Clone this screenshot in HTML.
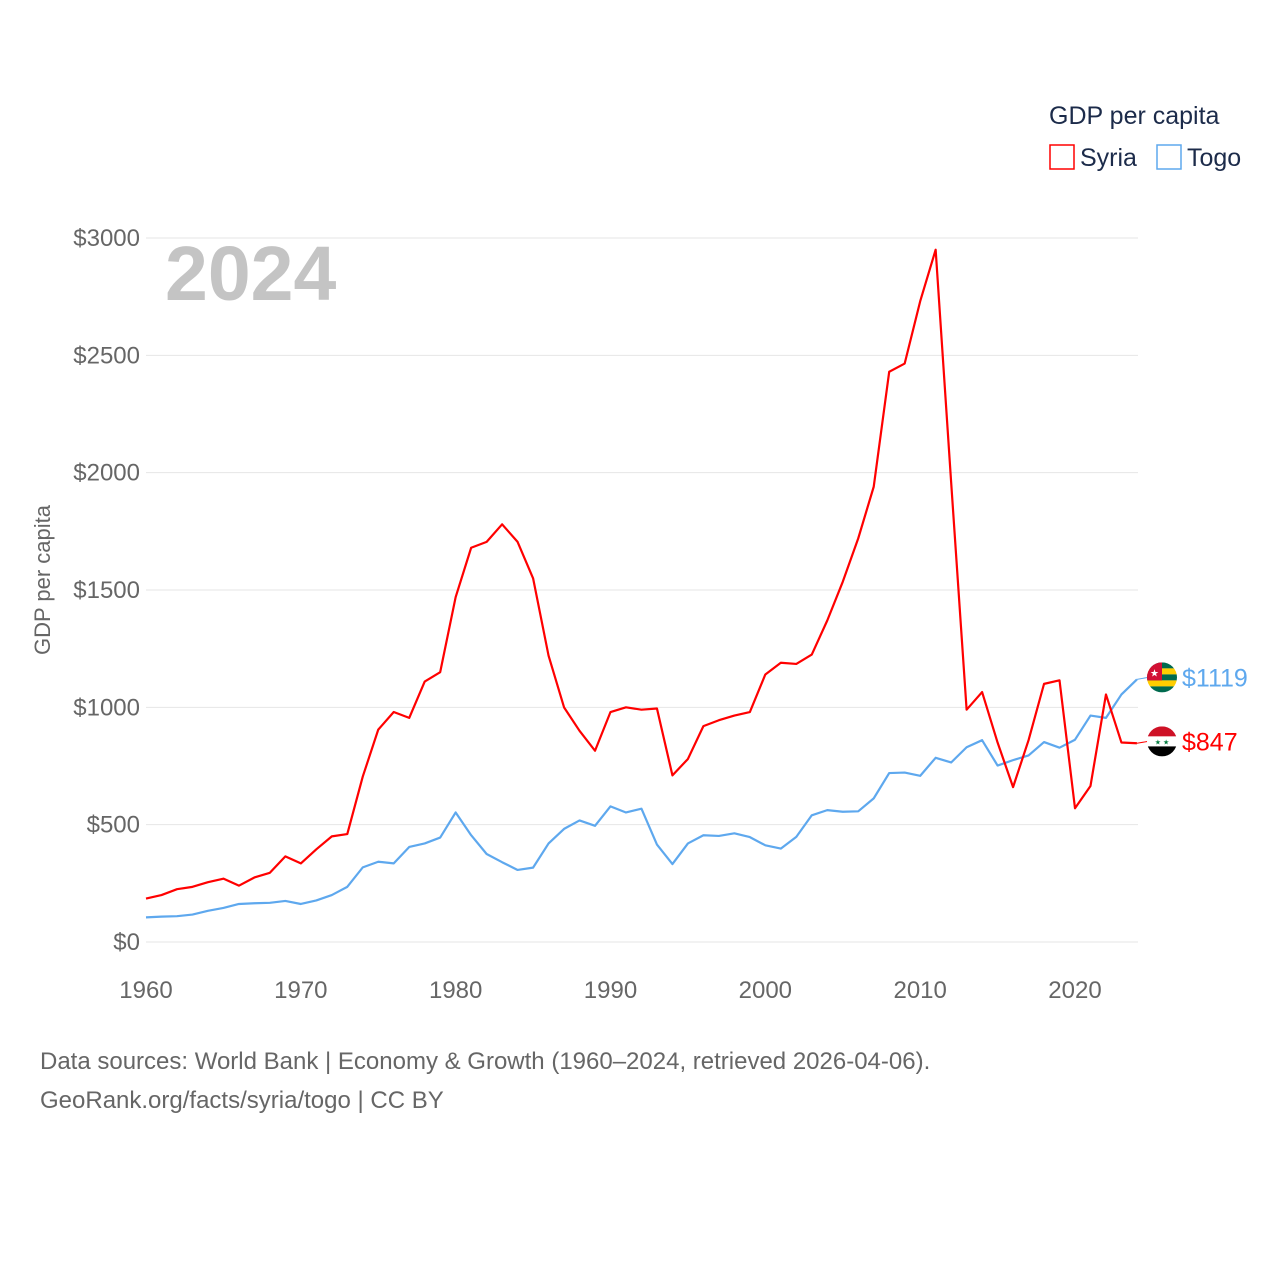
<!DOCTYPE html>
<html><head><meta charset="utf-8"><style>
body{margin:0;background:#fff;font-family:"Liberation Sans",sans-serif}
svg text{font-family:"Liberation Sans",sans-serif}
</style></head><body>
<svg id="chart" width="1280" height="1280" viewBox="0 0 1280 1280" xmlns="http://www.w3.org/2000/svg">
<g id="grid"></g>
<g id="yticks"></g>
<g id="xticks"></g>
<text x="165" y="300" font-size="77" font-weight="bold" fill="#c4c4c4">2024</text>
<text transform="translate(50,580) rotate(-90)" text-anchor="middle" font-size="22" fill="#666">GDP per capita</text>
<g id="series"></g>
<g>
<text x="1049" y="124" font-size="25" fill="#1c2b4a">GDP per capita</text>
<g><rect x="1050" y="145" width="24" height="24" fill="none" stroke="#f00" stroke-width="1.5"/><text x="1080" y="166" font-size="25" fill="#1c2b4a">Syria</text></g>
<g><rect x="1157" y="145" width="24" height="24" fill="none" stroke="#5ea8ee" stroke-width="1.5"/><text x="1187" y="166" font-size="25" fill="#1c2b4a">Togo</text></g>
</g>
<g font-size="24" fill="#666">
<text x="40" y="1069">Data sources: World Bank | Economy &amp; Growth (1960–2024, retrieved 2026-04-06).</text>
<text x="40" y="1108">GeoRank.org/facts/syria/togo | CC BY</text>
</g>
</svg>
<script>
const years=[];for(let y=1960;y<=2024;y++)years.push(y);
const syria=[185,200,225,235,255,270,240,275,295,365,335,395,450,460,705,905,980,955,1110,1150,1470,1680,1705,1780,1705,1550,1220,1000,900,815,980,1000,990,995,710,780,920,945,965,980,1140,1190,1185,1225,1370,1535,1720,1940,2430,2465,2730,2950,1960,990,1065,850,660,860,1100,1115,570,665,1055,850,847];
const togo=[105,108,110,117,133,145,162,165,167,175,162,177,200,235,318,342,335,405,420,445,552,455,375,340,307,317,420,482,518,495,578,552,568,415,332,420,455,452,463,447,412,398,448,540,562,555,557,612,720,722,708,785,765,830,860,752,775,795,852,828,862,965,955,1055,1119];
const yTicks=[0,500,1000,1500,2000,2500,3000];
const xTicks=[1960,1970,1980,1990,2000,2010,2020];
const X=y=>146+(y-1960)*(929/60);
const Y=v=>942-v*(704/3000);
const NS="http://www.w3.org/2000/svg";
function mk(t,a,p){const e=document.createElementNS(NS,t);for(const k in a)e.setAttribute(k,a[k]);p.appendChild(e);return e;}
const grid=document.getElementById('grid'),yt=document.getElementById('yticks'),xt=document.getElementById('xticks'),ser=document.getElementById('series');
yTicks.forEach(v=>{
 const l=mk('line',{x1:146,x2:1138,y1:Y(v),y2:Y(v),stroke:'#e6e6e6','stroke-width':1},grid);
 
 
 const t=mk('text',{x:140,y:Y(v)+8,'text-anchor':'end','font-size':24,fill:'#666'},yt);
 t.textContent='$'+v;
 
 
});
xTicks.forEach(v=>{
 const t=mk('text',{x:X(v),y:998,'text-anchor':'middle','font-size':24,fill:'#666'},xt);
 t.textContent=v;
 
 
});
function line(d,c,name){
 const p=mk('polyline',{points:d.map((v,i)=>X(years[i])+','+Y(v)).join(' '),fill:'none',stroke:c,'stroke-width':2.2,'stroke-linejoin':'round'},ser);
 
 
}
line(togo,'#5ea8ee','togo-line');
line(syria,'#f00','syria-line');
function endLabel(d,c,ly,name,flag){
 const ex=X(2024),ey=Y(d[d.length-1]);
 const g=mk('g',{},ser);
 
 
 mk('polyline',{points:`${ex},${ey} 1148,${ly} 1150,${ly}`,fill:'none',stroke:c,'stroke-width':1},g);
 flag(g,1162,ly);
 const t=mk('text',{x:1182,y:ly+9,'font-size':25,fill:c},g);
 t.textContent='$'+d[d.length-1];
}
const ty=Y(togo[togo.length-1]),sy=Math.max(Y(syria[syria.length-1]),ty+64);
endLabel(togo,'#5ea8ee',ty-2,'togo-end-label',(g,cx,cy)=>{
 mk('clipPath',{id:'ct'},g).appendChild(mk('circle',{cx,cy,r:15},g));
 const f=mk('g',{'clip-path':'url(#ct)'},g);
 for(let i=0;i<5;i++)mk('rect',{x:cx-15,y:cy-15+i*6,width:30,height:6,fill:i%2?'#ffce00':'#006a4e'},f);
 mk('rect',{x:cx-15,y:cy-15,width:15,height:18,fill:'#d21034'},f);
 mk('text',{x:cx-7.5,y:cy-1,'font-size':10,fill:'#fff','text-anchor':'middle'},f).textContent='★';
});
endLabel(syria,'#f00',sy-2,'syria-end-label',(g,cx,cy)=>{
 mk('clipPath',{id:'cs'},g).appendChild(mk('circle',{cx,cy,r:15},g));
 const f=mk('g',{'clip-path':'url(#cs)'},g);
 mk('rect',{x:cx-15,y:cy-15,width:30,height:10,fill:'#ce1126'},f);
 mk('rect',{x:cx-15,y:cy-5,width:30,height:10,fill:'#fff'},f);
 mk('rect',{x:cx-15,y:cy+5,width:30,height:10,fill:'#000'},f);
 mk('text',{x:cx,y:cy+3,'font-size':7,fill:'#007a3d','text-anchor':'middle'},f).textContent='★ ★';
});
</script>
</body></html>
